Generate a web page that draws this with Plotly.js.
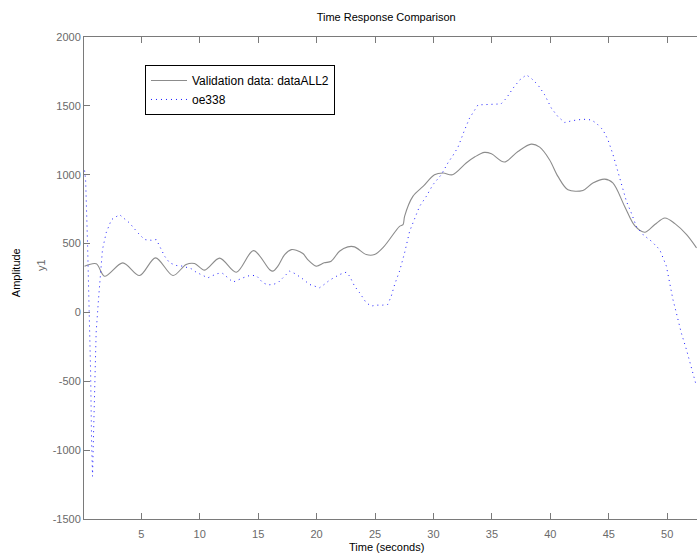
<!DOCTYPE html>
<html>
<head>
<meta charset="utf-8">
<script src="https://cdn.plot.ly/plotly-3.0.1.min.js"></script>
<style>html,body{margin:0;padding:0;background:#fff;}#chart{width:697px;height:554px;}</style>
</head>
<body>
<div id="chart"></div>
<script>
// Validation data (grey solid)
const valTime = [0.15,1.15,1.86,3.42,4.85,6.22,7.71,8.84,9.56,10.42,11.7,13.13,14.6,15.99,16.27,16.69,17.27,17.84,18.26,18.83,19.24,19.97,20.65,21.25,21.96,22.67,23.25,24.25,24.96,25.78,27.1,27.4,27.53,28.24,29.11,30.09,30.83,31.63,32.8,33.55,34.36,34.96,36.07,37.23,38.37,39.09,39.93,40.65,41.51,42.79,43.64,44.65,45.35,46.36,47.22,48.08,48.94,49.8,50.66,51.66,52.51];
const valAmp = [336,353,263,360,268,396,268,348,355,307,394,292,449,310,300,336,420,456,452,428,384,336,360,372,444,476,476,420,420,480,625,638,698,843,915,1000,1012,1000,1085,1130,1162,1152,1092,1169,1222,1200,1109,988,891,886,940,968,940,770,630,582,638,686,645,565,469];

// Model oe338 (blue dotted)
const modTime = [0.15,0.24,0.41,0.51,0.59,0.67,0.75,0.83,0.92,0.98,1.06,1.14,1.34,1.42,1.59,1.68,2.0,2.45,3.14,3.99,4.71,5.28,5.85,6.29,6.57,7.0,7.43,8.0,8.55,9.28,9.7,10.27,10.7,11.12,11.56,11.98,12.41,12.84,13.7,14.27,14.84,15.41,15.84,16.27,16.69,17.12,17.69,18.12,18.7,19.4,20.25,20.65,21.11,21.96,22.54,22.83,23.25,23.68,24.25,24.68,25.1,25.67,26.09,26.39,26.68,27.1,27.53,27.96,28.38,28.81,29.39,29.72,29.95,30.67,31.23,31.67,32.1,32.67,33.09,33.81,34.96,35.78,36.24,36.81,37.38,37.95,38.37,38.94,39.52,40.09,40.65,41.23,41.92,42.79,43.5,43.94,44.5,44.93,45.35,45.65,46.07,46.51,46.93,47.36,47.93,48.65,49.36,49.93,50.21,50.49,50.78,51.2,51.64,52.06,52.5];
const modAmp = [1030,960,480,150,-150,-450,-950,-1190,-870,-630,-391,-145,94,167,362,456,579,674,710,650,578,529,524,529,481,408,360,341,336,317,292,268,251,268,283,283,251,220,251,268,268,215,200,203,215,251,300,283,251,203,179,203,234,275,292,263,191,143,70,46,53,53,58,118,203,300,432,589,686,770,843,891,927,1000,1085,1140,1200,1326,1411,1507,1514,1514,1556,1628,1688,1725,1700,1652,1580,1483,1422,1379,1393,1403,1398,1374,1326,1254,1150,1060,940,807,722,625,565,517,456,336,215,94,-2,-147,-268,-389,-534];

const xTicks = [5,10,15,20,25,30,35,40,45,50];
const yTicks = [-1500,-1000,-500,0,500,1000,1500,2000];
const seriesNames = ['Validation data: dataALL2','oe338'];

const FONT = 'Liberation Sans, Arial, Helvetica, sans-serif';
const traces = [
  {x: valTime, y: valAmp, type: 'scatter', mode: 'lines', name: seriesNames[0],
   line: {color: '#8c8c8c', width: 1.1, shape: 'spline', smoothing: 0.9}},
  {x: modTime, y: modAmp, type: 'scatter', mode: 'lines', name: seriesNames[1],
   line: {color: '#1a1aff', width: 1, dash: '1px,4px'}}
];
const axisCommon = {
  showgrid: false, zeroline: false, showline: true, linecolor: '#7a7a7a', linewidth: 1,
  ticks: 'inside', ticklen: 6, tickcolor: '#7a7a7a', tickwidth: 1,
  tickfont: {family: FONT, size: 11, color: '#6a6a6a'}
};
const layout = {
  width: 697, height: 554,
  margin: {l: 84, r: 0, t: 37, b: 35},
  paper_bgcolor: '#ffffff', plot_bgcolor: '#ffffff',
  font: {family: FONT, size: 11, color: '#000'},
  title: {text: 'Time Response Comparison', x: 0.554, xanchor: 'center', y: 0.969, yanchor: 'middle',
          font: {family: FONT, size: 11, color: '#000'}},
  xaxis: Object.assign({}, axisCommon, {range: [0.1, 52.55], tickmode: 'array', tickvals: xTicks,
          ticktext: xTicks.map(String), mirror: 'ticks', ticklabelstandoff: 5}),
  yaxis: Object.assign({}, axisCommon, {range: [-1500, 2000], tickmode: 'array', tickvals: yTicks,
          ticktext: yTicks.map(String), mirror: false}),
  showlegend: true,
  legend: {x: 0.0995, y: 0.942, xanchor: 'left', yanchor: 'top', bgcolor: '#fff',
           bordercolor: '#000', borderwidth: 1, font: {family: FONT, size: 12, color: '#000'},
           itemwidth: 36, tracegroupgap: 0},
  annotations: [
    {text: 'Amplitude', xref: 'paper', yref: 'paper', x: -0.111, y: 0.512, textangle: -90,
     showarrow: false, xanchor: 'center', yanchor: 'middle', font: {family: FONT, size: 11, color: '#000'}},
    {text: 'y1', xref: 'paper', yref: 'paper', x: -0.070, y: 0.527, textangle: -90,
     showarrow: false, xanchor: 'center', yanchor: 'middle', font: {family: FONT, size: 11, color: '#666'}},
    {text: 'Time (seconds)', xref: 'paper', yref: 'paper', x: 0.493, y: -0.058,
     showarrow: false, xanchor: 'center', yanchor: 'middle', font: {family: FONT, size: 11, color: '#000'}}
  ]
};
Plotly.newPlot('chart', traces, layout, {displayModeBar: false, staticPlot: true});
</script>
</body>
</html>
